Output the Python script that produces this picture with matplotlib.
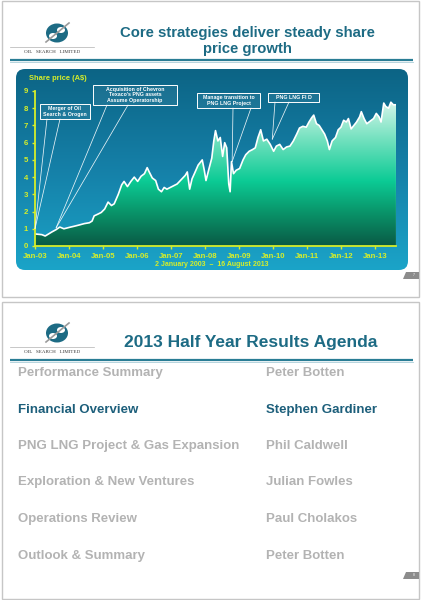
import numpy as np
import matplotlib
matplotlib.use("Agg")
import matplotlib.pyplot as plt
from matplotlib.patches import FancyBboxPatch, Rectangle, Ellipse, Polygon, ConnectionPatch
from matplotlib.colors import LinearSegmentedColormap

plt.rcParams['font.family'] = ['Liberation Sans', 'DejaVu Sans']

# Oil Search share price (A$), date as decimal year
dates = [2003.00, 2003.10, 2003.20, 2003.30, 2003.40, 2003.50, 2003.62, 2003.73, 2003.85, 2003.95,
         2004.05, 2004.16, 2004.30, 2004.45, 2004.60, 2004.68, 2004.74, 2004.85, 2004.95, 2005.05,
         2005.15, 2005.25, 2005.33, 2005.45, 2005.55, 2005.62, 2005.72, 2005.82, 2005.92, 2006.02,
         2006.12, 2006.22, 2006.30, 2006.36, 2006.45, 2006.55, 2006.63, 2006.72, 2006.80, 2006.88,
         2006.98, 2007.08, 2007.18, 2007.30, 2007.42, 2007.48, 2007.55, 2007.62, 2007.70, 2007.80,
         2007.92, 2007.98, 2008.03, 2008.12, 2008.20, 2008.26, 2008.31, 2008.38, 2008.45, 2008.52,
         2008.58, 2008.64, 2008.70, 2008.74, 2008.78, 2008.84, 2008.92, 2009.02, 2009.12, 2009.20,
         2009.30, 2009.40, 2009.48, 2009.56, 2009.64, 2009.72, 2009.82, 2009.92, 2010.02, 2010.10,
         2010.20, 2010.30, 2010.40, 2010.50, 2010.60, 2010.70, 2010.78, 2010.88, 2010.98, 2011.06,
         2011.14, 2011.20, 2011.28, 2011.36, 2011.44, 2011.52, 2011.60, 2011.66, 2011.74, 2011.84,
         2011.92, 2012.00, 2012.08, 2012.16, 2012.22, 2012.30, 2012.38, 2012.46, 2012.55, 2012.60,
         2012.68, 2012.76, 2012.86, 2012.96, 2013.04, 2013.12, 2013.18, 2013.26, 2013.32, 2013.40,
         2013.47, 2013.54, 2013.62]
prices = [0.70, 0.68, 0.66, 0.58, 0.70, 0.82, 0.95, 1.10, 1.00, 1.05,
          1.10, 1.15, 1.22, 1.30, 1.35, 1.45, 1.75, 1.85, 1.95, 2.15,
          2.55, 2.35, 2.45, 3.00, 3.55, 3.75, 3.45, 3.75, 4.00, 3.75,
          4.05, 4.20, 4.55, 4.30, 3.95, 3.80, 3.30, 3.15, 3.40, 3.30,
          3.40, 3.50, 3.60, 3.85, 4.10, 4.30, 3.30, 3.90, 4.25, 4.70,
          5.00, 4.40, 3.80, 4.50, 5.10, 6.10, 6.70, 6.10, 6.30, 5.20,
          6.00, 5.70, 3.60, 3.15, 4.90, 4.20, 4.40, 4.50, 5.00, 5.30,
          5.50, 5.60, 5.70, 6.30, 6.75, 6.10, 6.20, 5.90, 5.50, 5.80,
          5.90, 5.60, 5.75, 5.80, 6.10, 6.50, 6.85, 6.95, 6.90, 7.20,
          7.45, 7.60, 7.10, 7.00, 6.75, 6.50, 6.10, 5.60, 6.10, 6.30,
          6.75, 6.90, 7.30, 7.20, 7.40, 6.80, 7.00, 7.20, 7.50, 7.80,
          7.40, 7.10, 7.25, 7.40, 7.70, 7.50, 7.20, 8.30, 8.10, 8.00,
          8.35, 8.20, 8.20]

tick_years = list(range(2003, 2014))
tick_labels = ['Jan-03', 'Jan-04', 'Jan-05', 'Jan-06', 'Jan-07', 'Jan-08',
               'Jan-09', 'Jan-10', 'Jan-11', 'Jan-12', 'Jan-13']

# callouts: text, point on the chart (date, price)
callout_texts = ['Merger of Oil\nSearch & Orogen',
                 "Acquisition of Chevron\nTexaco's PNG assets\nAssume Operatorship",
                 'Manage transition to\nPNG LNG Project',
                 'PNG LNG FI D']
callout_dates = [2003.0, 2003.62, 2008.80, 2009.98]
callout_prices = [1.0, 1.05, 4.9, 6.2]

agenda_items = ['Performance Summary', 'Financial Overview', 'PNG LNG Project & Gas Expansion',
                'Exploration & New Ventures', 'Operations Review', 'Outlook & Summary']
agenda_people = ['Peter Botten', 'Stephen Gardiner', 'Phil Caldwell',
                 'Julian Fowles', 'Paul Cholakos', 'Peter Botten']
highlight = 1

TEAL = '#1d6b84'
YEL = '#d6ee2a'

W, H = 424, 600
fig = plt.figure(figsize=(W / 100, H / 100), dpi=100)

# background layer in pixel coordinates
bg = fig.add_axes([0, 0, 1, 1], zorder=0)
bg.set_xlim(0, W)
bg.set_ylim(H, 0)
bg.axis('off')

# slide borders
for top, bot in [(1, 297), (302, 599)]:
    bg.add_patch(Rectangle((2, top), 417, bot - top, fill=False, ec='#c6c6c6', lw=1))


def logo(y0):
    bg.add_patch(Ellipse((57, y0), 22, 19, fc=TEAL, ec='none'))
    bg.add_patch(Ellipse((53, y0 + 3), 8, 6, fc='white', ec='none'))
    bg.add_patch(Ellipse((61, y0 - 3), 8, 6, fc='white', ec='none'))
    bg.plot([46, 69], [y0 + 9, y0 - 10], color='#9a9a9a', lw=1.2)
    bg.plot([10, 94], [y0 + 14, y0 + 14], color='#b0b0b0', lw=0.5)
    bg.text(52, y0 + 19, 'OIL   SEARCH   LIMITED', ha='center', va='center',
            fontsize=3.6, family='Liberation Serif', color='#333333')


def header_rule(y):
    bg.plot([10, 413], [y, y], color='#2a7d95', lw=1.6, solid_capstyle='butt')
    bg.plot([10, 413], [y + 1.5, y + 1.5], color='#a9cdd8', lw=0.6)


def page_tab(y, num):
    bg.add_patch(Polygon([(403, y + 4), (406, y - 3), (419, y - 3), (419, y + 4)],
                         closed=True, fc='#8c8c8c', ec='none'))
    bg.text(414, y + 0.5, num, ha='center', va='center', fontsize=2.5, color='white')


# ---- slide 1 ----
logo(33)
header_rule(60)
bg.text(247, 33, 'Core strategies deliver steady share', ha='center', va='center',
        fontsize=10.7, fontweight='bold', color=TEAL)
bg.text(247, 49, 'price growth', ha='center', va='center',
        fontsize=10.7, fontweight='bold', color=TEAL)

panel = FancyBboxPatch((16, 69), 392, 201, boxstyle='round,pad=0,rounding_size=9',
                       fc='none', ec='none')
bg.add_patch(panel)
panel_cmap = LinearSegmentedColormap.from_list('panel', ['#0c6485', '#1580a8', '#1ba4c8'])
im = bg.imshow(np.linspace(0, 1, 256).reshape(-1, 1), cmap=panel_cmap, aspect='auto',
               extent=(16, 408, 270, 69), origin='upper', interpolation='bilinear')
im.set_clip_path(panel)
page_tab(275, '7')

# ---- slide 2 ----
logo(333)
header_rule(360)
bg.text(251, 343, '2013 Half Year Results Agenda', ha='center', va='center',
        fontsize=12.5, fontweight='bold', color=TEAL)
row_y = [373, 410, 446, 482, 519, 556]
for i, (item, person, y) in enumerate(zip(agenda_items, agenda_people, row_y)):
    c = '#1d5f7b' if i == highlight else '#b3b3b3'
    bg.text(18, y, item, ha='left', va='center', fontsize=9.5, fontweight='bold', color=c)
    bg.text(266, y, person, ha='left', va='center', fontsize=9.5, fontweight='bold', color=c)
page_tab(575, '8')

# ---- share price chart ----
ax = fig.add_axes([35 / W, 1 - 246 / H, (396 - 35) / W, (246 - 91) / H], zorder=1)
ax.patch.set_alpha(0)
x0, x1 = dates[0], dates[-1]
ax.set_xlim(x0, x1)
ax.set_ylim(0, 9)

verts = [(x0, 0)] + list(zip(dates, prices)) + [(x1, 0)]
area = Polygon(verts, closed=True, fc='none', ec='none', transform=ax.transData)
ax.add_patch(area)
fill_cmap = LinearSegmentedColormap.from_list(
    'fill', [(0, '#0a5a45'), (0.22, '#09956a'), (0.42, '#0ccb95'),
             (0.68, '#6fe0bd'), (1.0, '#f0fcf7')])
gim = ax.imshow(np.linspace(0, 1, 256).reshape(-1, 1), cmap=fill_cmap, aspect='auto',
                extent=(x0, x1, 0, 9), origin='lower', interpolation='bilinear')
gim.set_clip_path(area)
ax.plot(dates, prices, color='white', lw=1.2, solid_joinstyle='round')
ax.plot([x1, x1], [0, prices[-1]], color='#d8f5ea', lw=0.8)

for s in ['top', 'right']:
    ax.spines[s].set_visible(False)
for s in ['left', 'bottom']:
    ax.spines[s].set_color(YEL)
    ax.spines[s].set_linewidth(1.3)
ax.set_xticks(tick_years)
ax.set_xticklabels(tick_labels)
ax.set_yticks(range(0, 10))
ax.tick_params(colors=YEL, labelcolor=YEL, length=2.5, width=1, labelsize=5.6, pad=2.5)
for lab in ax.get_xticklabels() + ax.get_yticklabels():
    lab.set_fontweight('bold')

# text and callouts on top
top = fig.add_axes([0, 0, 1, 1], zorder=3)
top.set_xlim(0, W)
top.set_ylim(H, 0)
top.axis('off')
top.text(29, 79, 'Share price (A$)', ha='left', va='center', fontsize=5.4,
         fontweight='bold', color=YEL)
top.text(212, 265, '2 January 2003  \u2013  16 August 2013', ha='center', va='center',
         fontsize=5.0, fontweight='bold', color=YEL)

boxes = [(40, 104, 50, 15), (93, 85, 84, 20), (197, 93, 63, 15), (268, 93, 51, 9)]
feet = [(47, 60), (107, 128), (233, 251), (275, 289)]
for text, d, p, (bx, by, bw, bh), (fa, fb) in zip(callout_texts, callout_dates, callout_prices,
                                                     boxes, feet):
    top.add_patch(Rectangle((bx, by), bw, bh, fc=(1, 1, 1, 0.06), ec='white', lw=0.7))
    top.text(bx + bw / 2, by + bh / 2, text, ha='center', va='center', fontsize=3.8,
             fontweight='bold', color='white', linespacing=1.15)
    for fx in (fa, fb):
        con = ConnectionPatch(xyA=(fx, by + bh), coordsA=top.transData,
                              xyB=(d, p), coordsB=ax.transData,
                              color='white', lw=0.55, alpha=0.9)
        fig.add_artist(con)
        con.set_zorder(5)

fig.savefig('out.png', dpi=100)
